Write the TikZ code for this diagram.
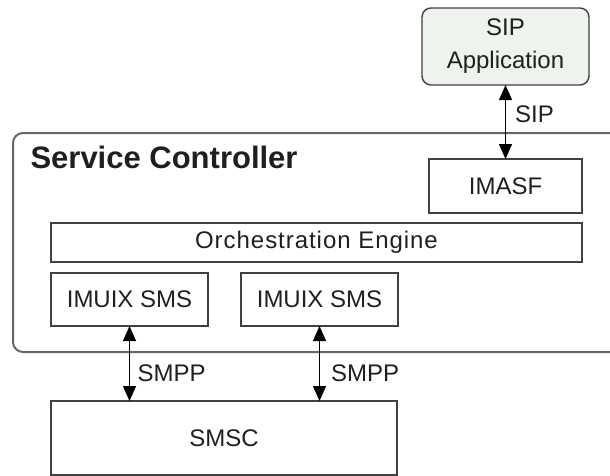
\documentclass[tikz,border=0pt]{standalone}
\usepackage{fontspec}
\setmainfont{Liberation Sans}
\usetikzlibrary{arrows.meta}
\definecolor{boxline}{HTML}{404040}
\definecolor{frameline}{HTML}{666666}
\definecolor{appfill}{HTML}{EEF3EE}

\begin{document}
\begin{tikzpicture}[x=1pt,y=-1pt,
    font=\fontsize{24}{33}\selectfont,text=black!88,
    unit/.style={draw=boxline,line width=1.4pt,inner sep=0pt,outer sep=0pt,
      anchor=north west,align=center},
    link/.style={{Triangle[length=15pt,width=13pt]}-{Triangle[length=15pt,width=13pt]},
      line width=1.3pt},
    proto/.style={inner sep=2pt}]
  \useasboundingbox (0,0) rectangle (610,475);
  \clip (0,0) rectangle (610,475);
  % controller frame, open to the right
  \draw[frameline,line width=2pt,rounded corners=10pt] (13,133) rectangle (640,352);
  \node[anchor=base west,font=\fontsize{31}{36}\selectfont\bfseries] (ctrl) at (27,168)
    {Service Controller};
  \node[unit,fill=appfill,rounded corners=9pt,minimum width=167pt,minimum height=77pt]
    (app) at (422,8) {SIP\\Application};
  \node[unit,minimum width=153pt,minimum height=54pt] (imasf) at (429,159) {IMASF};
  \node[unit,minimum width=531pt,minimum height=39pt] (orch) at (51,223)
    {\addfontfeature{LetterSpace=4}Orchestration Engine};
  \node[unit,minimum width=346pt,minimum height=74pt] (smsc) at (51,401) {SMSC};
  \draw[link] (app) -- (imasf) node[proto,pos=.4,right=7pt] (sip) {SIP};
  \foreach \x/\d [count=\k] in {51/5.5,241/9}{
    \node[unit,minimum width=157pt,minimum height=53pt] (imuix\k) at (\x,273) {IMUIX SMS};
    \draw[link] (imuix\k) -- (imuix\k |- smsc.north)
      node[proto,pos=.63,right=\d pt] (smpp\k) {SMPP};
  }
\end{tikzpicture}
\end{document}
